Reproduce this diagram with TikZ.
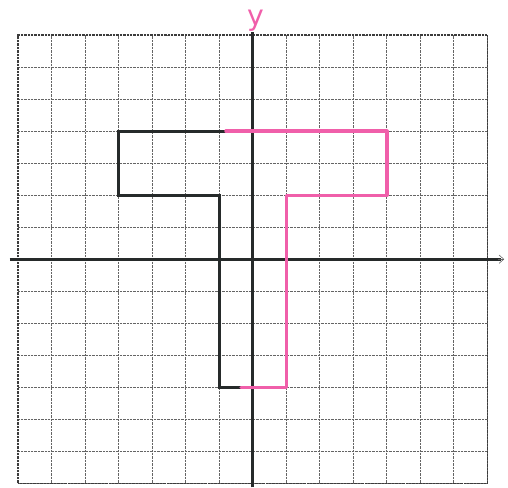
\documentclass[tikz,border=0pt]{standalone}
\usepackage{fontspec}
\setsansfont{DejaVu Sans}
\usepackage{tikz}
\usetikzlibrary{arrows.meta, positioning}
\definecolor{inkpink}{RGB}{240,95,170}
\definecolor{inkdark}{RGB}{38,42,42}
\definecolor{gridgray}{RGB}{100,100,100}

\tikzset{
	gridline/.style={gridgray, line width=0.9pt, dash pattern=on 0.8pt off 0.4pt},
	axisline/.style={inkdark, line width=2.4pt},
	figblack/.style={inkdark, line width=2.6pt, line join=miter},
	figpink/.style={inkpink, line width=2.8pt, line join=round, line cap=round}
}

\begin{document}
\begin{tikzpicture}[x=1cm,y=0.955cm]
		\useasboundingbox (-7.537,-7.125) rectangle (7.612,8.094);
		% squared paper
		\draw[gridline, step={(1,1)}] (-7,-7) grid (7,7);
		\draw[gridline, gridgray!60!black] (-7,-7) rectangle (7,7);
		% axes
		\coordinate (xl) at (-7.25,0);
		\coordinate (xr) at (7.4,0);
		\coordinate (yb) at (0,-7.125);
		\coordinate (yt) at (0,7.08);
		\draw[axisline] (xl) -- (xr);
		\draw[axisline] (yb) -- (yt);
		\draw[-{Straight Barb[length=4pt,width=7pt]}, gridgray, line width=0.5pt] (7.3,0) -- (7.5,0);
		\node[inkpink, font=\sffamily\fontsize{24}{24}\selectfont, inner sep=0pt] (ylabel) at (0.08,7.45) {y};
		% original figure
		\draw[figblack] (0,4) -- (-4,4) -- (-4,2) -- (-1,2) -- (-1,-4) -- (0,-4);
		% reflected figure
		\draw[figpink] (-0.8,4) -- (4,4) -- (4,2) -- (1,2) -- (1,-4) -- (-0.35,-4);
\end{tikzpicture}
\end{document}
